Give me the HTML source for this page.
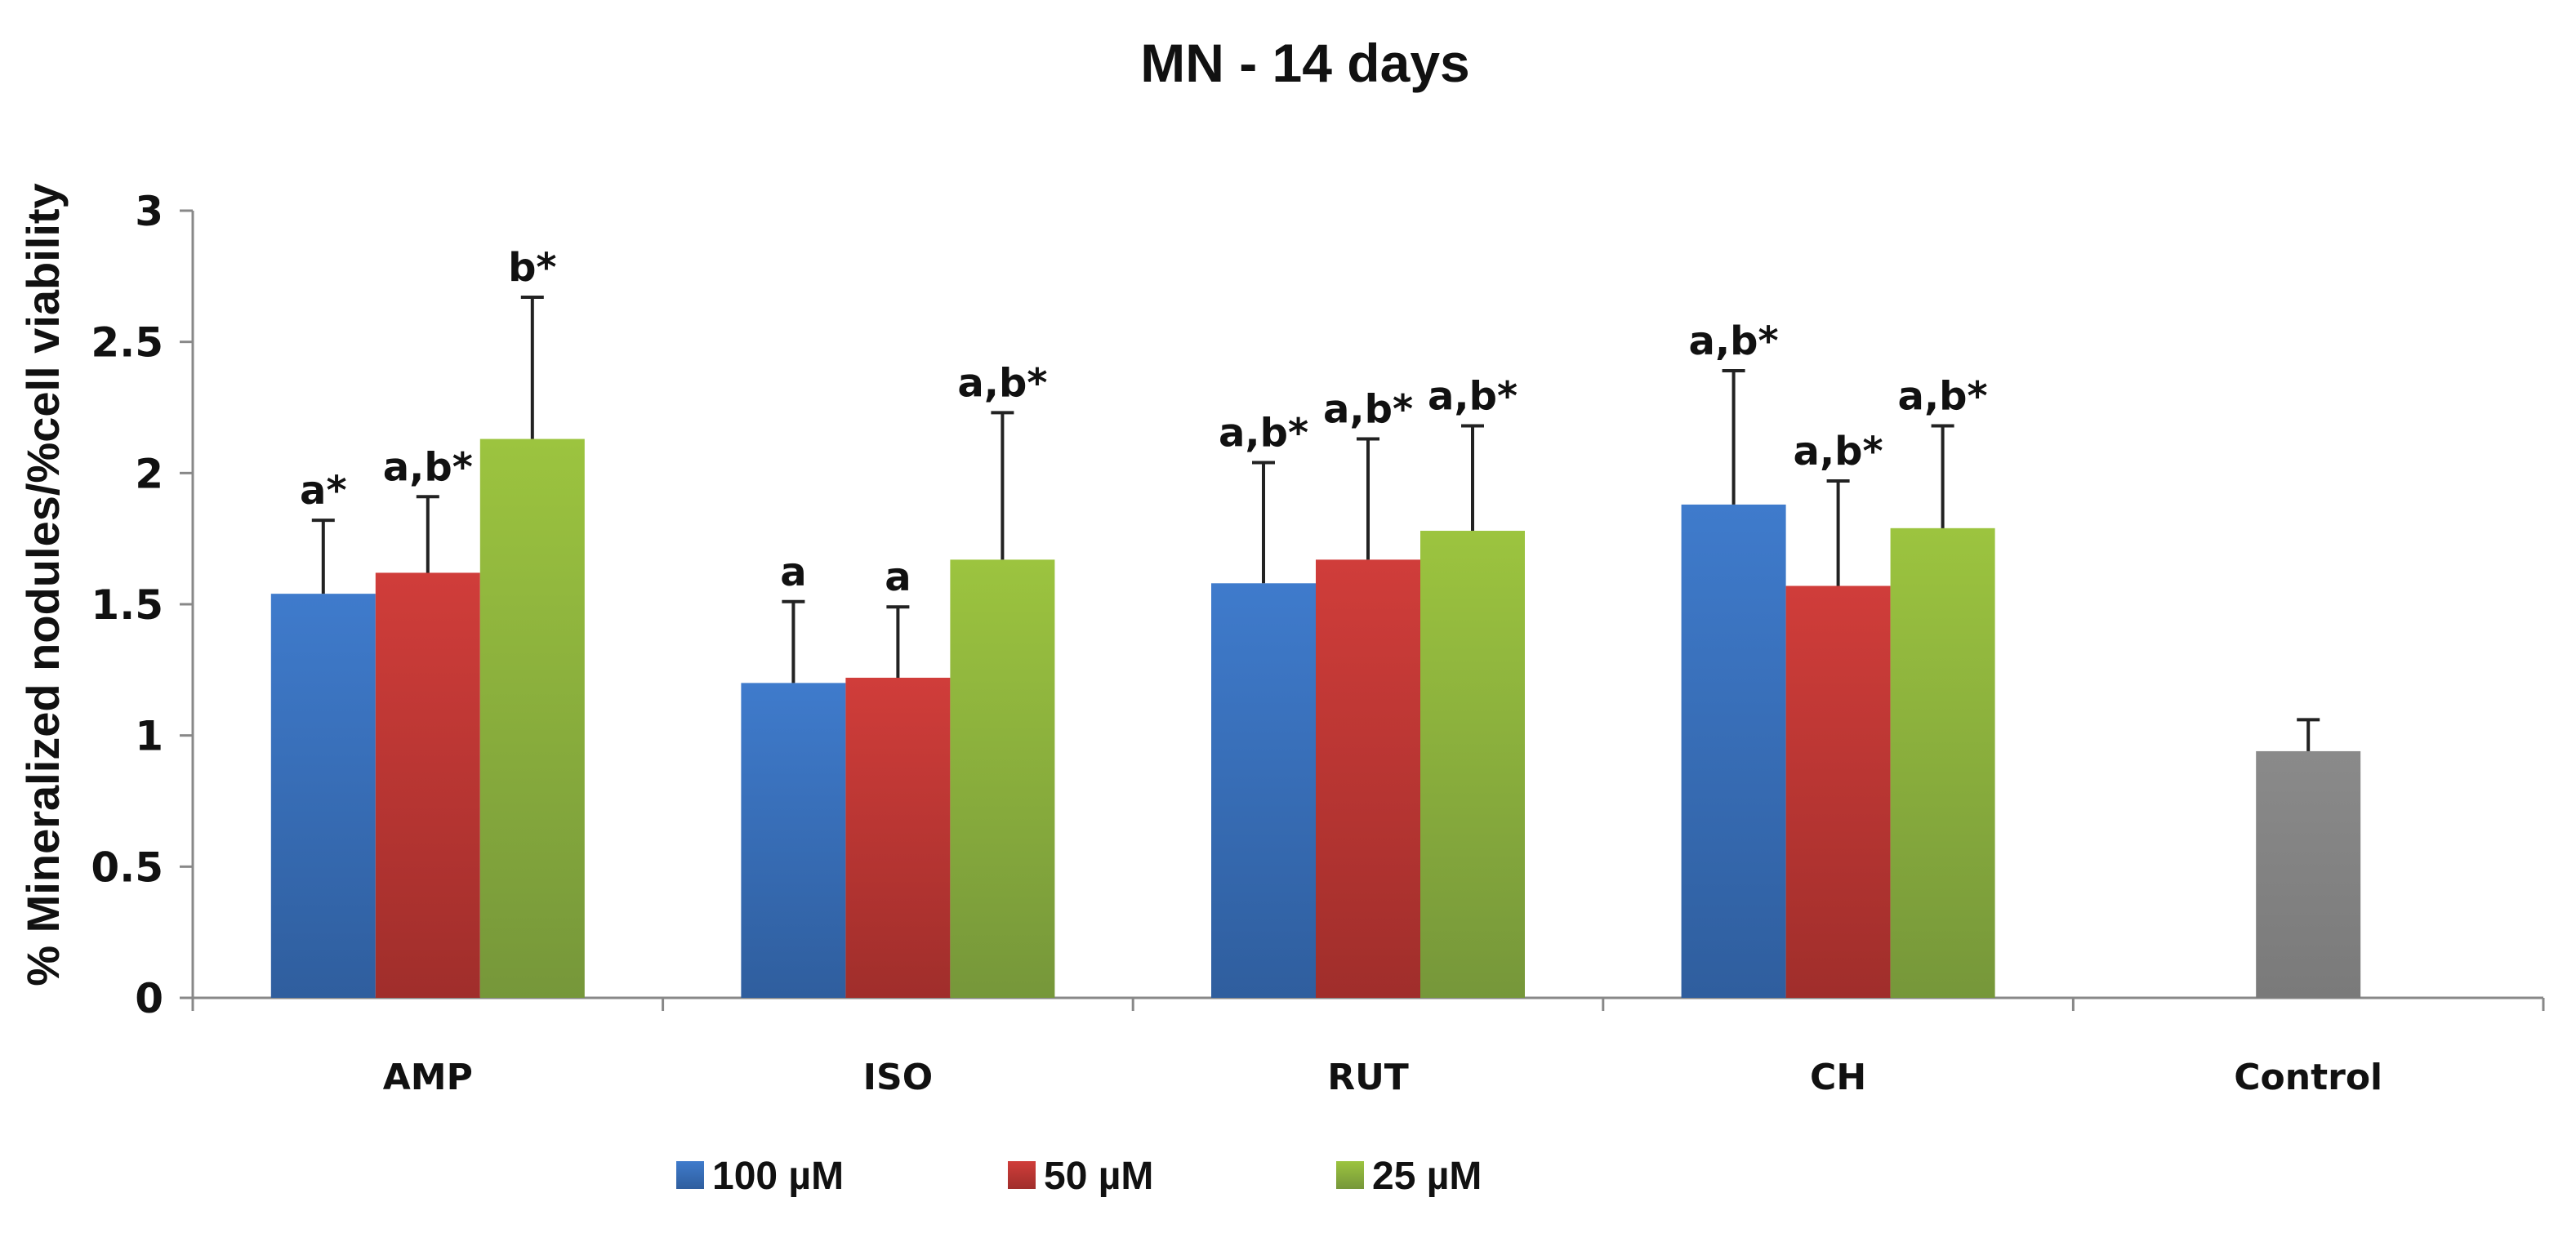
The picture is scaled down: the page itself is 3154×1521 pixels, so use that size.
<!DOCTYPE html>
<html><head><meta charset="utf-8"><style>
html,body{margin:0;padding:0;background:#fff;}
svg text{font-family:"DejaVu Sans","Liberation Sans",sans-serif;font-weight:bold;fill:#111;}
svg text.lib{font-family:"Liberation Sans",sans-serif;}
</style></head><body>
<svg id="chart" width="3154" height="1516" viewBox="0 0 3154 1516" xmlns="http://www.w3.org/2000/svg">
<defs>
<linearGradient id="gb" x1="0" y1="0" x2="0" y2="1"><stop offset="0" stop-color="#3f7bcc"/><stop offset="1" stop-color="#2f5e9e"/></linearGradient>
<linearGradient id="gr" x1="0" y1="0" x2="0" y2="1"><stop offset="0" stop-color="#d03d3a"/><stop offset="1" stop-color="#a02e2b"/></linearGradient>
<linearGradient id="gg" x1="0" y1="0" x2="0" y2="1"><stop offset="0" stop-color="#9cc43f"/><stop offset="1" stop-color="#76973a"/></linearGradient>
<linearGradient id="gk" x1="0" y1="0" x2="0" y2="1"><stop offset="0" stop-color="#8a8a8a"/><stop offset="1" stop-color="#7a7a7a"/></linearGradient>
</defs>
<text class="lib" x="1598" y="100" font-size="66" text-anchor="middle">MN - 14 days</text>
<text class="lib" transform="translate(72,716) rotate(-90)" font-size="56" text-anchor="middle">% Mineralized nodules/%cell viability</text>
<g id="axes"></g>
<g id="bars"></g>
<g>
<rect x="828" y="1422" width="34" height="34" fill="url(#gb)"/>
<text class="lib" x="872" y="1456" font-size="48">100 µM</text>
<rect x="1234" y="1422" width="34" height="34" fill="url(#gr)"/>
<text class="lib" x="1278" y="1456" font-size="48">50 µM</text>
<rect x="1636" y="1422" width="34" height="34" fill="url(#gg)"/>
<text class="lib" x="1680" y="1456" font-size="48">25 µM</text>
</g>
</svg>
<script>
const categories = ["AMP","ISO","RUT","CH"];
const s100 = [1.54,1.20,1.58,1.88];
const s50 = [1.62,1.22,1.67,1.57];
const s25 = [2.13,1.67,1.78,1.79];
const e100 = [1.82,1.51,2.04,2.39];
const e50 = [1.91,1.49,2.13,1.97];
const e25 = [2.67,2.23,2.18,2.18];
const l100 = ["a*","a","a,b*","a,b*"];
const l50 = ["a,b*","a","a,b*","a,b*"];
const l25 = ["b*","a,b*","a,b*","a,b*"];
const controlLabel = "Control";
const controlValue = [0.94];
const controlErr = [1.06];
const yTicks = [0,0.5,1,1.5,2,2.5,3];
const yTickLabels = ["0","0.5","1","1.5","2","2.5","3"];

const NS="http://www.w3.org/2000/svg";
const X0=236, X1=3114, Y0=1222, Y3=258;
const nCat=5, catW=(X1-X0)/nCat, barW=128;
function y(v){return Y0-(v/3)*(Y0-Y3);}
function cx(i){return X0+catW*(i+0.5);}
function mk(tag,attrs,parent){const e=document.createElementNS(NS,tag);for(const k in attrs)e.setAttribute(k,attrs[k]);parent.appendChild(e);return e;}
const axes=document.getElementById('axes'), bars=document.getElementById('bars');
let a=mk('line',{x1:X0,y1:Y3,x2:X0,y2:Y0,stroke:'#888','stroke-width':3},axes);


a=mk('line',{x1:X0,y1:Y0,x2:X1,y2:Y0,stroke:'#888','stroke-width':3},axes);


yTicks.forEach((v,i)=>{
  const t=mk('line',{x1:X0-16,y1:y(v),x2:X0,y2:y(v),stroke:'#888','stroke-width':3},axes);
  
  
  const tx=mk('text',{x:X0-36,y:y(v)+18,'font-size':50,'text-anchor':'end'},axes);
  tx.textContent=yTickLabels[i];
  
  
});
for(let i=0;i<=nCat;i++){
  const t=mk('line',{x1:X0+catW*i,y1:Y0,x2:X0+catW*i,y2:Y0+16,stroke:'#888','stroke-width':3},axes);
  
  
}
const allCats=categories.concat([controlLabel]);
allCats.forEach((c,i)=>{
  const tx=mk('text',{x:cx(i),y:Y0+112,'font-size':44,'text-anchor':'middle'},axes);
  tx.textContent=c;
  
  
});
function bar(xc,v,e,fill,lab,name){
  const r=mk('rect',{x:xc-barW/2,y:y(v),width:barW,height:Y0-y(v),fill:fill},bars);
  
  
  const l=mk('line',{x1:xc,y1:y(v),x2:xc,y2:y(e),stroke:'#222','stroke-width':4},bars);
  
  
  const c=mk('line',{x1:xc-14,y1:y(e),x2:xc+14,y2:y(e),stroke:'#222','stroke-width':4},bars);
  
  
  if(lab){
    const t=mk('text',{x:xc,y:y(e)-20,'font-size':48,'text-anchor':'middle'},bars);
    t.textContent=lab;
    
    
  }
}
categories.forEach((c,i)=>{
  const m=cx(i);
  bar(m-barW,s100[i],e100[i],'url(#gb)',l100[i],'bar-100-'+c.toLowerCase());
  bar(m,s50[i],e50[i],'url(#gr)',l50[i],'bar-50-'+c.toLowerCase());
  bar(m+barW,s25[i],e25[i],'url(#gg)',l25[i],'bar-25-'+c.toLowerCase());
});
bar(cx(4),controlValue[0],controlErr[0],'url(#gk)',null,'bar-control');
</script>
</body></html>
